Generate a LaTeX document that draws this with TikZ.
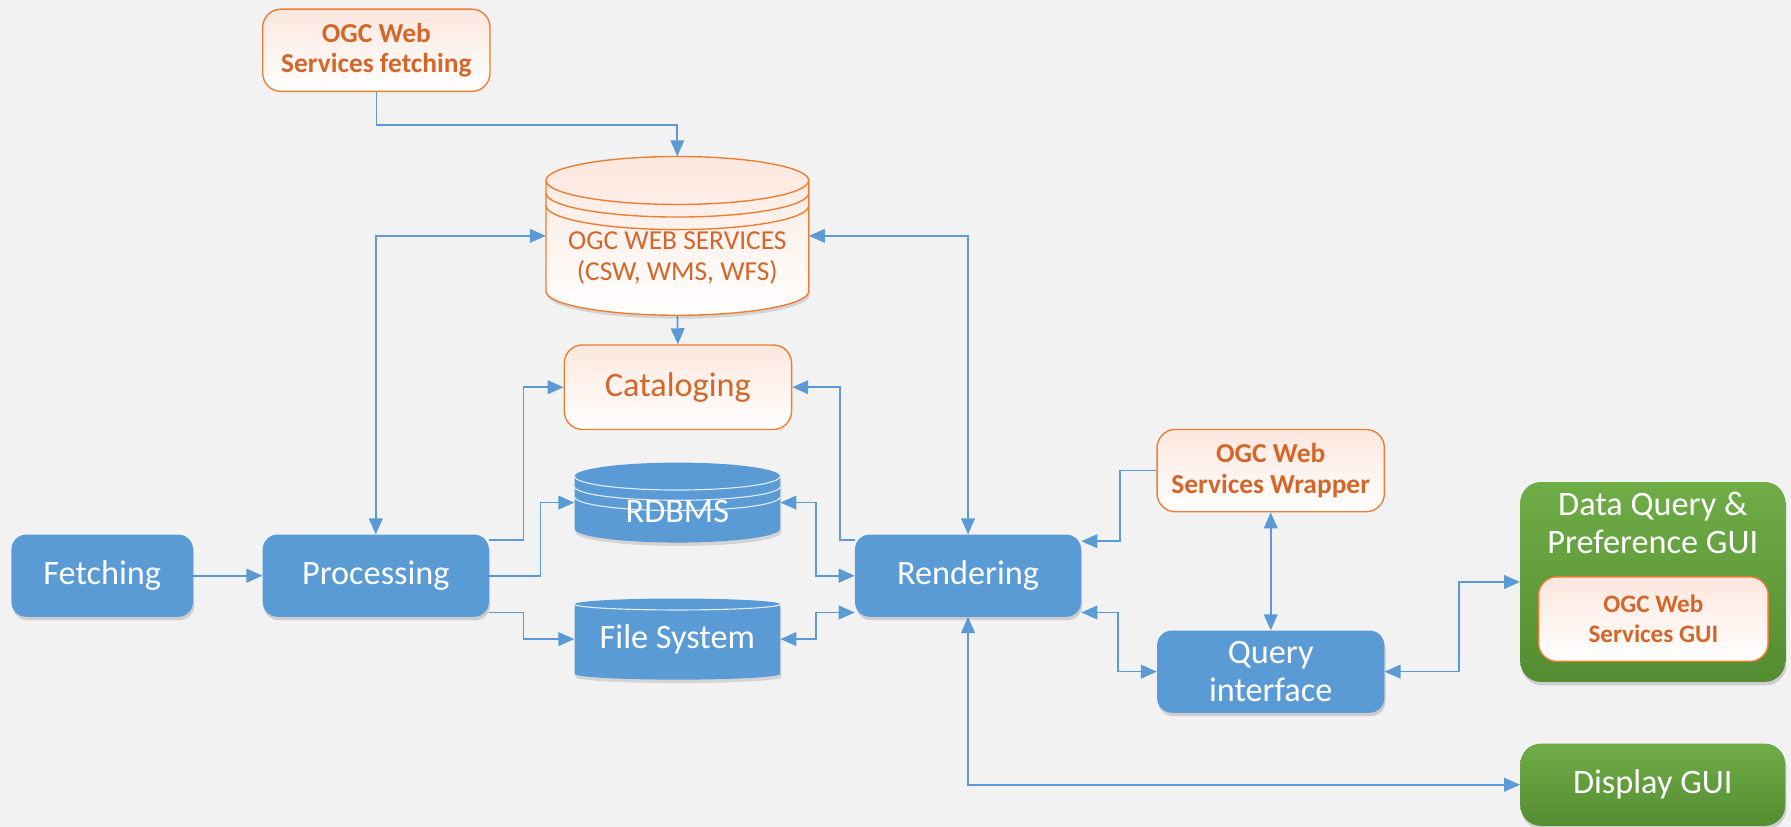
\documentclass[tikz,border=0pt]{standalone}
\usepackage{fontspec}
\setmainfont{Carlito}
\usetikzlibrary{arrows.meta,shadows,backgrounds}
\definecolor{bgc}{HTML}{F2F2F2}
\definecolor{blu}{HTML}{5B9BD5}
\definecolor{org}{HTML}{ED7D31}
\definecolor{orgtxt}{HTML}{D5662A}
\definecolor{orgbg}{HTML}{FCE7DE}
\definecolor{grnt}{HTML}{6FAD47}
\definecolor{grnb}{HTML}{548D32}
\definecolor{cylline}{HTML}{DCE9F6}
\newcommand\cylshape[6]{%
  \pgfmathsetmacro\crx{(#2-#1)/2}%
  \path[#6] (#1,#3+#5) -- (#1,#4-#5) arc[start angle=180,end angle=360,x radius=\crx pt,y radius=#5pt] -- (#2,#3+#5) arc[start angle=0,end angle=180,x radius=\crx pt,y radius=#5pt] -- cycle;
}
\newcommand\cylarc[5]{%
  \pgfmathsetmacro\crx{(#2-#1)/2}%
  \path[#5] (#1,#3) arc[start angle=180,end angle=360,x radius=\crx pt,y radius=#4pt];
}
\tikzset{
  tip/.tip={Triangle[length=14pt,width=12pt]},
  conn/.style={draw=blu,line width=1.5pt,-tip},
  conn2/.style={draw=blu,line width=1.5pt,tip-tip},
  shad/.style={drop shadow={shadow xshift=1pt,shadow yshift=-3pt,opacity=.15,fill=black}},
  bluebox/.style={rectangle,rounded corners=13pt,fill=blu,text=white,align=center,inner sep=0pt,
    font=\fontsize{30}{33}\selectfont,shad},
  orgbox/.style={rectangle,rounded corners=16pt,draw=org,line width=1.2pt,top color=orgbg,bottom color=white,
    text=orgtxt,align=center,inner sep=0pt,font=\bfseries\fontsize{24}{27}\selectfont},
  grnbox/.style={rectangle,rounded corners=18pt,top color=grnt,bottom color=grnb,text=white,align=center,
    inner sep=0pt,font=\fontsize{30}{33}\selectfont,shad},
  plain/.style={rectangle,inner sep=0pt,draw=none,align=center},
}
\begin{document}
\begin{tikzpicture}[x=1pt,y=-1pt]
\begin{scope}[on background layer]
\fill[bgc] (0,0) rectangle (1568,724);
\end{scope}
\useasboundingbox (0,0) rectangle (1568,724);

% cylinders
\cylshape{479}{709}{139}{279}{21}{fill=black,opacity=.12}
\cylshape{478}{708}{137}{276}{21}{top color=orgbg,bottom color=white,draw=org,line width=1.2pt}
\cylarc{478}{708}{158}{21}{draw=org,line width=1.2pt}
\cylarc{478}{708}{169}{21}{draw=org,line width=1.2pt}
\cylarc{478}{708}{180}{21}{draw=org,line width=1.2pt}
\node[plain,minimum width=230pt,minimum height=139pt] (ogcws) at (593,206.5) {};
\node[plain,text=orgtxt,font=\fontsize{24}{27}\selectfont] (ogcwstext) at (593,226) {OGC WEB SERVICES\\(CSW, WMS, WFS)};

\cylshape{504}{684}{408}{478}{12}{fill=black,opacity=.12}
\cylshape{503}{683}{405}{475}{12}{fill=blu}
\cylarc{503}{683}{417}{12}{draw=cylline,line width=1pt}
\cylarc{503}{683}{426}{12}{draw=cylline,line width=1pt}
\cylarc{503}{683}{435}{12}{draw=cylline,line width=1pt}
\node[plain,minimum width=180pt,minimum height=70pt] (rdbms) at (593,440) {};
\node[plain,text=white,font=\fontsize{30}{33}\selectfont] (rdbmstext) at (593,448) {RDBMS};

\cylshape{504}{684}{527}{598}{5}{fill=black,opacity=.12}
\cylshape{503}{683}{524}{595}{5}{fill=blu}
\cylarc{503}{683}{529}{5}{draw=cylline,line width=1pt}
\node[plain,minimum width=180pt,minimum height=71pt,text=white,font=\fontsize{30}{33}\selectfont] (fs) at (593,559.5) {File System};

% boxes
\node[orgbox,minimum width=199pt,minimum height=72pt] (fetchOGC) at (329.5,44) {OGC Web\\Services fetching};
\node[orgbox,minimum width=199pt,minimum height=74pt,font=\fontsize{30}{33}\selectfont] (catalog) at (593.5,339) {Cataloging};
\node[bluebox,minimum width=159pt,minimum height=72pt] (fetching) at (89.5,504) {Fetching};
\node[bluebox,minimum width=198pt,minimum height=72pt] (processing) at (329,504) {Processing};
\node[bluebox,minimum width=198pt,minimum height=72pt] (rendering) at (847.5,504) {Rendering};
\node[orgbox,minimum width=199pt,minimum height=72pt] (wrapper) at (1112.5,412) {OGC Web\\Services Wrapper};
\node[bluebox,minimum width=199pt,minimum height=72pt] (query) at (1112.5,588) {Query\\interface};
\node[grnbox,minimum width=232pt,minimum height=175pt] (dqgui) at (1447,509.5) {};
\node[plain,text=white,font=\fontsize{30}{33}\selectfont] (dqtitle) at (1447,457.5) {Data Query \&\\Preference GUI};
\node[orgbox,minimum width=201pt,minimum height=74pt,font=\bfseries\fontsize{22}{26}\selectfont] (ogcgui) at (1447.5,542) {OGC Web\\Services GUI};
\node[grnbox,minimum width=232pt,minimum height=72pt] (display) at (1447,687) {Display GUI};

% connectors
\begin{scope}[on background layer]
\draw[conn] (fetchOGC.south) -- ++(0,29) -| (ogcws.north);
\draw[conn] (ogcws.south) -- (catalog.north);
\draw[conn2] (processing.north) |- (ogcws.west);
\draw[conn2] (rendering.north) |- (ogcws.east);
\draw[conn] ([yshift=-5pt]processing.north east) -- ++(30,0) |- (catalog.west);
\draw[conn] (processing.east) -- ++(45,0) |- (rdbms.west);
\draw[conn] ([yshift=4pt]processing.south east) -- ++(30,0) |- (fs.west);
\draw[conn] (fetching.east) -- (processing.west);
\draw[conn2] (rdbms.east) -- ++(31,0) |- (rendering.west);
\draw[conn2] (fs.east) -- ++(31,0) |- ([yshift=4pt]rendering.south west);
\draw[conn] ([yshift=-5pt]rendering.north west) -- ++(-13,0) |- (catalog.east);
\draw[conn] (wrapper.west) -- ++(-32,0) |- ([yshift=-6pt]rendering.north east);
\draw[conn2] (wrapper.south) -- (query.north);
\draw[conn2] ([yshift=4pt]rendering.south east) -- ++(32,0) |- (query.west);
\draw[conn2] (query.east) -- ++(65,0) |- (dqgui.west);
\draw[conn2] (rendering.south) |- (display.west);
\end{scope}
\end{tikzpicture}
\end{document}
